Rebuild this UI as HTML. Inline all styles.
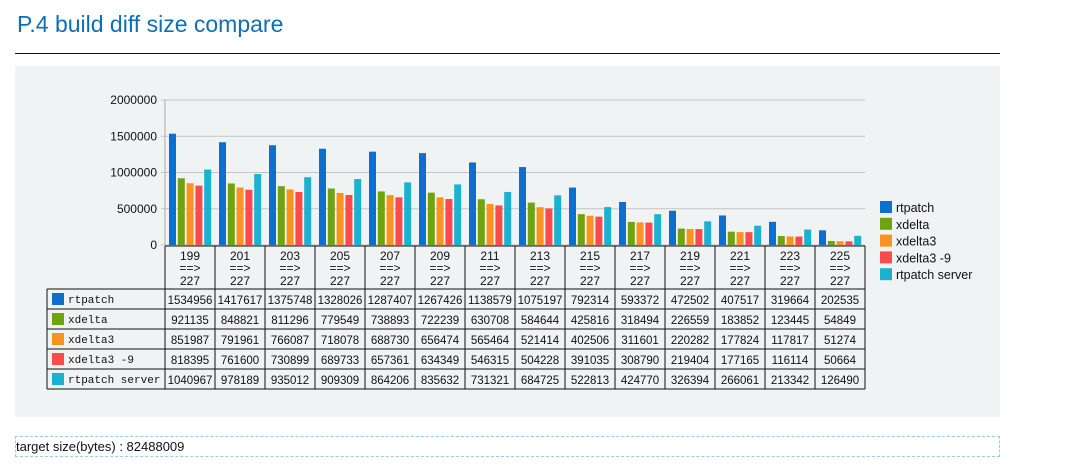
<!DOCTYPE html>
<html><head><meta charset="utf-8">
<style>
body{margin:0;width:1065px;height:472px;background:#fff;font-family:"Liberation Sans",sans-serif;overflow:hidden;position:relative}
#title{position:absolute;left:17px;top:11px;font-size:23px;color:#0e6eb8;}
#rule{position:absolute;left:15px;top:53px;width:985px;height:1px;background:#111}
#panel{position:absolute;left:15px;top:66px;width:985px;height:351px;background:#f0f3f4}
#foot{position:absolute;left:15px;top:436px;width:983px;height:19px;border:1px dashed #9cc8ec;font-size:13px;line-height:19px;color:#111}
svg{position:absolute;left:0;top:0}
</style></head><body>
<div id="title">P.4 build diff size compare</div>
<div id="rule"></div>
<div id="panel"></div>
<div id="foot">target size(bytes) : 82488009</div>
<svg id="chart" width="1065" height="472"></svg>
<script>
const categories=["199","201","203","205","207","209","211","213","215","217","219","221","223","225"];
const seriesNames=["rtpatch","xdelta","xdelta3","xdelta3 -9","rtpatch server"];
const rtpatch=[1534956,1417617,1375748,1328026,1287407,1267426,1138579,1075197,792314,593372,472502,407517,319664,202535];
const xdelta=[921135,848821,811296,779549,738893,722239,630708,584644,425816,318494,226559,183852,123445,54849];
const xdelta3=[851987,791961,766087,718078,688730,656474,565464,521414,402506,311601,220282,177824,117817,51274];
const xdelta3_9=[818395,761600,730899,689733,657361,634349,546315,504228,391035,308790,219404,177165,116114,50664];
const rtpatchServer=[1040967,978189,935012,909309,864206,835632,731321,684725,522813,424770,326394,266061,213342,126490];
const yTicks=[0,500000,1000000,1500000,2000000];
const colors=["#0f6fcc","#6fa311","#f7931e","#fc4a4a","#1bb1d1"];
const series=[rtpatch,xdelta,xdelta3,xdelta3_9,rtpatchServer];
const NS="http://www.w3.org/2000/svg";
const svg=document.getElementById('chart');
const X0=165,COLW=50,Y0=245,YTOP=100,YMAX=2000000;
const y=v=>Y0-(v/YMAX)*(Y0-YTOP);
const x=i=>X0+i*COLW;
function el(t,a,txt){const e=document.createElementNS(NS,t);for(const k in a)e.setAttribute(k,a[k]);if(txt!==undefined)e.textContent=txt;svg.appendChild(e);return e;}
const W=X0+categories.length*COLW;
yTicks.forEach(v=>{
  const g=el('line',{x1:X0-4,x2:W,y1:y(v),y2:y(v),stroke:'#c4c4c4','stroke-width':1});
  
  
  const t=el('text',{x:X0-8,y:y(v)+4,'text-anchor':'end','font-size':12,fill:'#111'},String(v));
  
  
});
const ax=el('line',{x1:X0,x2:X0,y1:YTOP,y2:Y0,stroke:'#aaa'});


series.forEach((s,si)=>{
  s.forEach((v,i)=>{
    const bx=x(i)+4+si*8.8;
    const r=el('rect',{x:bx,y:y(v),width:7,height:Y0-y(v),fill:colors[si]});
    
    
  });
});
const HB=289,RH=20,TL=47;
el('line',{x1:X0,x2:W,y1:Y0+1,y2:Y0+1,stroke:'#111'});
el('line',{x1:TL,x2:W,y1:HB,y2:HB,stroke:'#111'});
for(let r=1;r<=5;r++)el('line',{x1:TL,x2:W,y1:HB+r*RH,y2:HB+r*RH,stroke:'#111'});
el('line',{x1:TL,x2:TL,y1:HB,y2:HB+5*RH,stroke:'#111'});
for(let i=0;i<=categories.length;i++)el('line',{x1:x(i),x2:x(i),y1:Y0+1,y2:HB+5*RH,stroke:'#111'});
categories.forEach((c,i)=>{
  const cx=x(i)+COLW/2;
  const t=el('text',{x:cx,y:260,'text-anchor':'middle','font-size':12,fill:'#111'},c);
  
  
  el('text',{x:cx,y:272,'text-anchor':'middle','font-size':12,fill:'#111'},'==>');
  el('text',{x:cx,y:285,'text-anchor':'middle','font-size':12,fill:'#111'},'227');
});
series.forEach((s,si)=>{
  const ry=HB+si*RH;
  const sq=el('rect',{x:TL+5,y:ry+4,width:12,height:12,fill:colors[si]});
  
  
  const n=el('text',{x:TL+21,y:ry+14,'font-size':11,'font-family':'Liberation Mono, monospace',fill:'#111'},seriesNames[si]);
  
  
  s.forEach((v,i)=>{
    const t=el('text',{x:x(i)+COLW/2,y:ry+15,'text-anchor':'middle','font-size':11.5,fill:'#111'},String(v));
    
    
  });
});
seriesNames.forEach((n,si)=>{
  const ly=201+si*16.8;
  const r=el('rect',{x:880,y:ly,width:12,height:12,fill:colors[si]});
  
  
  const t=el('text',{x:896,y:ly+11,'font-size':12.5,fill:'#111'},n);
  
  
});
</script>
</body></html>
